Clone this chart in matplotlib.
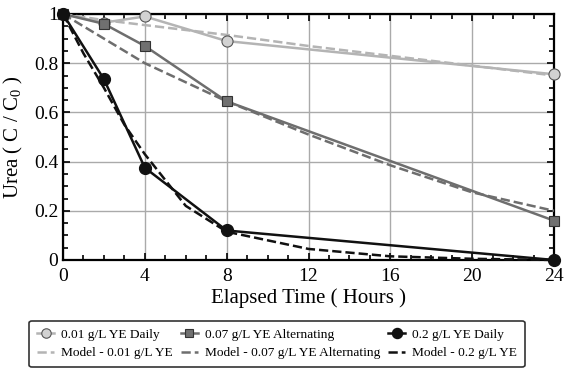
import matplotlib
matplotlib.use("Agg")
import matplotlib.pyplot as plt
from matplotlib.ticker import MultipleLocator, FixedLocator

plt.rcParams['font.family'] = ['Liberation Serif', 'DejaVu Serif']
plt.rcParams['mathtext.fontset'] = 'custom'
plt.rcParams['mathtext.rm'] = 'Liberation Serif'

# data
t_exp = [0, 2, 4, 8, 24]
yd_001 = [1.0, 0.965, 0.99, 0.89, 0.755]
yd_007 = [1.0, 0.96, 0.87, 0.645, 0.16]
yd_02 = [1.0, 0.735, 0.375, 0.12, 0.0]

t_m1 = [0, 2, 4, 8, 12, 16, 20, 24]
ym_001 = [1.0, 0.975, 0.955, 0.915, 0.87, 0.83, 0.79, 0.75]
t_m2 = [0, 4, 8, 12, 16, 20, 24]
ym_007 = [1.0, 0.80, 0.645, 0.51, 0.385, 0.275, 0.2]
t_m3 = [0, 1, 2, 3, 4, 6, 8, 12, 16, 20, 24]
ym_02 = [1.0, 0.84, 0.70, 0.55, 0.43, 0.22, 0.115, 0.045, 0.015, 0.005, 0.0]

labels = ['0.01 g/L YE Daily', 'Model - 0.01 g/L YE',
          '0.07 g/L YE Alternating', 'Model - 0.07 g/L YE Alternating',
          '0.2 g/L YE Daily', 'Model - 0.2 g/L YE']

c1, c2, c3 = '#b4b4b4', '#6e6e6e', '#111111'

fig = plt.figure(figsize=(5.77, 3.71), dpi=100)
ax = fig.add_axes([63/577, 1-260/371, (554-63)/577, (260-14)/371])

ax.grid(True, color='#aaaaaa', lw=1.0, zorder=0)
ax.set_axisbelow(True)

h1, = ax.plot(t_exp, yd_001, '-o', color=c1, lw=1.8, ms=8, mfc='#d2d2d2', mec='#555555', mew=0.8, zorder=5, clip_on=False)
m1, = ax.plot(t_m1, ym_001, '--', color=c1, lw=1.8, zorder=4, clip_on=False)
h2, = ax.plot(t_exp, yd_007, '-s', color=c2, lw=1.8, ms=7.5, mfc='#707070', mec='#333333', mew=0.8, zorder=5, clip_on=False)
m2, = ax.plot(t_m2, ym_007, '--', color=c2, lw=1.8, zorder=4, clip_on=False)
h3, = ax.plot(t_exp, yd_02, '-o', color=c3, lw=1.8, ms=8.5, mfc='#111111', mec='#111111', zorder=5, clip_on=False)
m3, = ax.plot(t_m3, ym_02, '--', color=c3, lw=1.8, zorder=4, clip_on=False)

ax.set_xlim(0, 24)
ax.set_ylim(0, 1)
ax.xaxis.set_major_locator(FixedLocator([0, 4, 8, 12, 16, 20, 24]))
ax.xaxis.set_minor_locator(MultipleLocator(1))
ax.yaxis.set_major_locator(FixedLocator([0, 0.2, 0.4, 0.6, 0.8, 1.0]))
ax.yaxis.set_minor_locator(MultipleLocator(0.05))
ax.set_yticklabels(['0', '0.2', '0.4', '0.6', '0.8', '1'])
ax.tick_params(which='both', direction='in', top=True, right=True, labelsize=14, width=1.2, color='black')
ax.tick_params(which='major', length=5)
ax.tick_params(which='minor', length=3.5)
ax.tick_params(axis='x', pad=6)
for s in ax.spines.values():
    s.set_linewidth(1.6)

ax.set_xlabel('Elapsed Time ( Hours )', fontsize=15, labelpad=2)
ax.set_ylabel('Urea ( C / C$_0$ )', fontsize=15, labelpad=6)

leg = fig.legend([h1, m1, h2, m2, h3, m3], labels, ncol=3, loc='lower center',
                 bbox_to_anchor=(0.48, -0.008), fontsize=9.6, frameon=True, fancybox=True,
                 edgecolor='black', handlelength=1.3, columnspacing=0.6, handletextpad=0.5,
                 borderpad=0.6, labelspacing=0.45, markerscale=0.85)
leg.get_frame().set_linewidth(1.2)

fig.savefig('out.png', dpi=100)
